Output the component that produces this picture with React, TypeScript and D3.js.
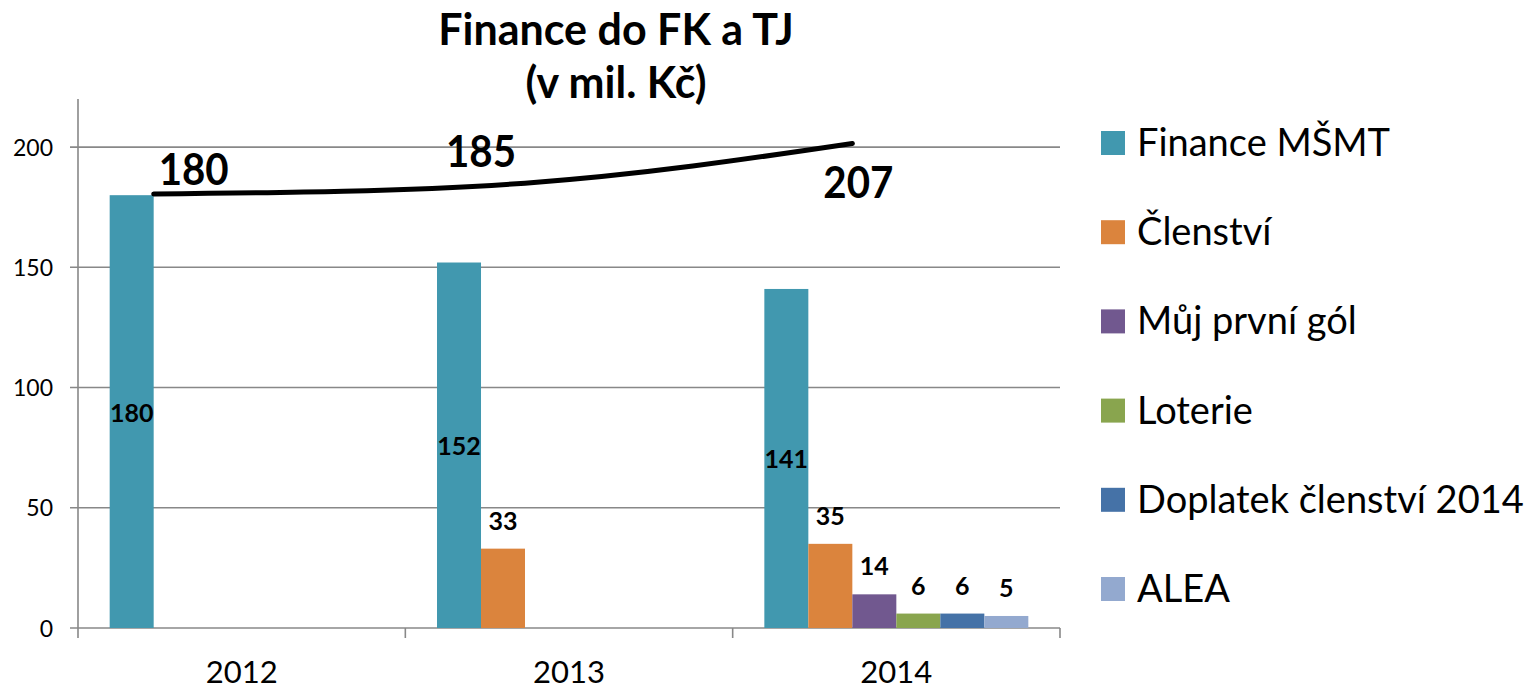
import React from "react";
import * as d3 from "d3";

const categories = ["2012", "2013", "2014"];
const seriesNames = [
  "Finance MŠMT",
  "Členství",
  "Můj první gól",
  "Loterie",
  "Doplatek členství 2014",
  "ALEA",
];
const seriesColors = ["#4198AF", "#DB843D", "#71588F", "#89A54E", "#4572A7", "#93A9CF"];
// values per series, one entry per category (null = no bar)
const financeMSMT = [180, 152, 141];
const clenstvi = [null, 33, 35];
const mujPrvniGol = [null, null, 14];
const loterie = [null, null, 6];
const doplatek = [null, null, 6];
const alea = [null, null, 5];
const seriesValues: (number | null)[][] = [financeMSMT, clenstvi, mujPrvniGol, loterie, doplatek, alea];

const yTicks = [0, 50, 100, 150, 200];
const totals = [180, 185, 207];
const trendLine = [180.5, 185, 201.5];

const W = 1531;
const H = 690;
const FONT = "Lato, 'Open Sans', sans-serif";

export default function App() {
  const left = 78;
  const right = 1060;
  const bottom = 628;
  const top = 99;

  const y = d3.scaleLinear().domain([0, 220]).range([bottom, top]);
  const x0 = d3.scaleBand<string>().domain(categories).range([left, right]).padding(0);
  const x1 = d3
    .scaleBand<number>()
    .domain(d3.range(seriesNames.length))
    .range([0, x0.bandwidth()])
    .paddingInner(0)
    .paddingOuter(0.72);

  // trend anchor: right edges of selected bars
  const anchorSeries = [0, 1, 1];
  const trendPts: [number, number][] = categories.map((c, i) => [
    (x0(c) as number) + (x1(anchorSeries[i]) as number) + x1.bandwidth(),
    y(trendLine[i]),
  ]);
  const linePath = d3.line().curve(d3.curveNatural)(trendPts) || "";

  const bars: JSX.Element[] = [];
  const labels: JSX.Element[] = [];
  seriesValues.forEach((vals, si) => {
    vals.forEach((v, ci) => {
      if (v == null) return;
      const bx = (x0(categories[ci]) as number) + (x1(si) as number);
      const by = y(v);
      const bw = x1.bandwidth();
      bars.push(
        <rect
          key={`b${si}-${ci}`}
          x={bx}
          y={by}
          width={bw}
          height={bottom - by}
          fill={seriesColors[si]}
        />
      );
      labels.push(
        <text
          key={`l${si}-${ci}`}
          x={bx + bw / 2}
          y={si === 0 ? (by + bottom) / 2 + 10 : by - 19}
          textAnchor="middle"
          fontWeight="bold"
          fontSize={25}
          fontFamily={FONT}
        >
          {v}
        </text>
      );
    });
  });

  const totalPos = [
    { x: trendPts[0][0] + 5 + 35, y: 185 },
    { x: (x0("2013") as number) + (x1(0) as number) + x1.bandwidth(), y: 167 },
    { x: (x0("2014") as number) + (x1(2) as number) + 6, y: 198 },
  ];

  return (
    <svg
      width={W}
      height={H}
      style={{ position: "absolute", left: 0, top: 0, background: "#fff" }}
    >
      <rect width={W} height={H} fill="#fff" />
      {/* title */}
      <text x={616} y={45} textAnchor="middle" fontWeight="bold" fontSize={43} fontFamily={FONT}>
        Finance do FK a TJ
      </text>
      <text x={616} y={98} textAnchor="middle" fontWeight="bold" fontSize={43} fontFamily={FONT}>
        (v mil. Kč)
      </text>

      {/* gridlines */}
      {yTicks.map((t) => (
        <line key={`g${t}`} x1={left - 8} x2={right} y1={y(t)} y2={y(t)} stroke="#888" strokeWidth={1.6} />
      ))}
      {/* y axis */}
      <line x1={left} x2={left} y1={top} y2={bottom + 10} stroke="#888" strokeWidth={1.6} />
      {/* category ticks */}
      {categories.map((c) => (
        <line
          key={`t${c}`}
          x1={(x0(c) as number) + x0.bandwidth()}
          x2={(x0(c) as number) + x0.bandwidth()}
          y1={bottom}
          y2={bottom + 10}
          stroke="#888"
          strokeWidth={1.6}
        />
      ))}
      {yTicks.map((t) => (
        <text key={`yl${t}`} x={53} y={y(t) + 8.5} textAnchor="end" fontSize={23} fontFamily={FONT}>
          {t}
        </text>
      ))}
      {categories.map((c) => (
        <text
          key={`xl${c}`}
          x={(x0(c) as number) + x0.bandwidth() / 2}
          y={683}
          textAnchor="middle"
          fontSize={31}
          fontFamily={FONT}
        >
          {c}
        </text>
      ))}

      {bars}
      {labels}

      {/* trend line */}
      <path d={linePath} fill="none" stroke="#000" strokeWidth={5} strokeLinecap="round" />
      {totals.map((t, i) => (
        <text
          key={`tot${i}`}
          x={totalPos[i].x}
          y={totalPos[i].y}
          textAnchor="middle"
          fontWeight="bold"
          fontSize={43}
          fontFamily={FONT}
          textLength={70}
          lengthAdjust="spacingAndGlyphs"
        >
          {t}
        </text>
      ))}

      {/* legend */}
      {seriesNames.map((s, i) => {
        const cy = 143 + i * 89.2;
        return (
          <g key={`lg${i}`}>
            <rect x={1101} y={cy - 12} width={24} height={24} fill={seriesColors[i]} />
            <text x={1137} y={cy + 13} fontSize={38} fontFamily={FONT}>
              {s}
            </text>
          </g>
        );
      })}
    </svg>
  );
}
